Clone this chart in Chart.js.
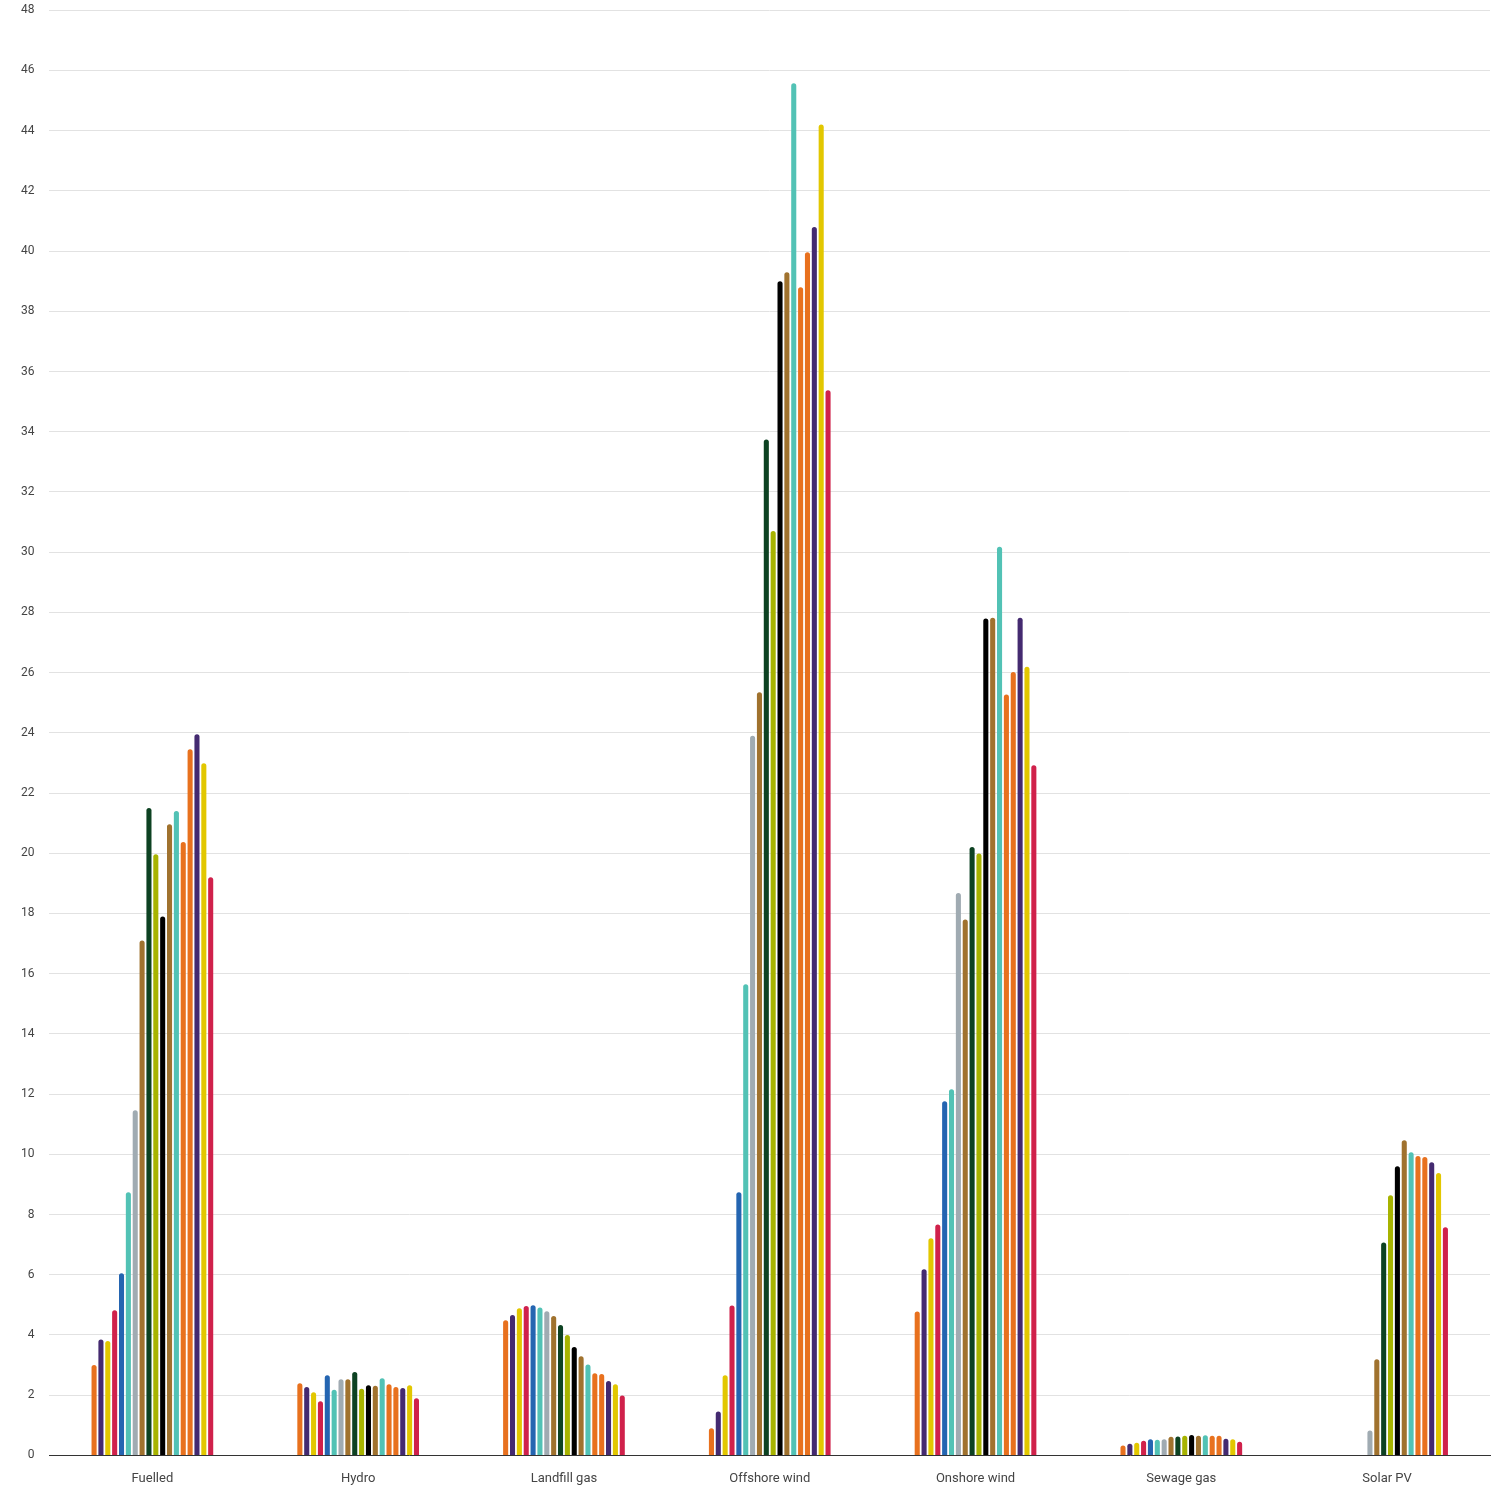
<!DOCTYPE html>
<html>
<head>
<meta charset="utf-8">
<script src="https://cdn.jsdelivr.net/npm/chart.js@4/dist/chart.umd.min.js"></script>
<style>
  html, body { margin: 0; padding: 0; background: #fff; overflow: hidden; }
  #wrap { width: 1500px; height: 1512px; margin-top: -12px; }
</style>
</head>
<body>
<div id="wrap"><canvas id="genChart" width="1500" height="1512"></canvas></div>
<script>
const categories = ['Fuelled', 'Hydro', 'Landfill gas', 'Offshore wind', 'Onshore wind', 'Sewage gas', 'Solar PV'];

const yTicks = [0, 2, 4, 6, 8, 10, 12, 14, 16, 18, 20, 22, 24, 26, 28, 30, 32, 34, 36, 38, 40, 42, 44, 46, 48];

// one entry per bar in a group, left to right
const seriesNames = ['S1', 'S2', 'S3', 'S4', 'S5', 'S6', 'S7', 'S8', 'S9',
  'S10', 'S11', 'S12', 'S13', 'S14', 'S15', 'S16', 'S17', 'S18'];

const seriesColors = ['#E8711E', '#442A70', '#E2C700', '#D0214B', '#2465B1', '#52C2B5',
  '#A0ABB2', '#A0722E', '#0D4222', '#A7B300', '#000000', '#A0722E',
  '#52C2B5', '#E8711E', '#E8711E', '#442A70', '#E2C700', '#D0214B'];

// values per category, in series order
const fuelled = [3.0, 3.85, 3.8, 4.82, 6.05, 8.74, 11.46, 17.1, 21.5, 19.97, 17.9, 20.96, 21.4, 20.37, 23.45, 23.95, 22.99, 19.2];
const hydro = [2.4, 2.27, 2.1, 1.8, 2.66, 2.18, 2.53, 2.53, 2.77, 2.21, 2.33, 2.31, 2.56, 2.36, 2.27, 2.24, 2.33, 1.9];
const landfillGas = [4.49, 4.66, 4.89, 4.96, 4.99, 4.91, 4.79, 4.63, 4.33, 4.0, 3.6, 3.29, 3.02, 2.73, 2.7, 2.47, 2.36, 1.99];
const offshoreWind = [0.9, 1.46, 2.66, 4.98, 8.74, 15.65, 23.9, 25.35, 33.74, 30.7, 39.0, 39.3, 45.57, 38.8, 39.96, 40.8, 44.2, 35.38];
const onshoreWind = [4.78, 6.18, 7.21, 7.67, 11.76, 12.16, 18.68, 17.8, 20.21, 19.99, 27.8, 27.82, 30.18, 25.27, 26.02, 27.82, 26.19, 22.92];
const sewageGas = [0.33, 0.39, 0.42, 0.49, 0.54, 0.52, 0.54, 0.62, 0.63, 0.65, 0.68, 0.65, 0.67, 0.65, 0.65, 0.55, 0.54, 0.45];
const solarPV = [0, 0, 0, 0, 0, 0, 0.83, 3.19, 7.07, 8.64, 9.6, 10.47, 10.07, 9.94, 9.91, 9.74, 9.38, 7.58];

const byCategory = [fuelled, hydro, landfillGas, offshoreWind, onshoreWind, sewageGas, solarPV];

const datasets = seriesNames.map((name, i) => ({
  label: name,
  data: byCategory.map(vals => vals[i]),
  backgroundColor: seriesColors[i],
  borderWidth: 0,
  borderRadius: { topLeft: 3, topRight: 3, bottomLeft: 0, bottomRight: 0 },
  borderSkipped: false,
  categoryPercentage: 0.6,
  barPercentage: 0.74
}));

const ctx = document.getElementById('genChart').getContext('2d');

new Chart(ctx, {
  type: 'bar',
  data: {
    labels: categories,
    datasets: datasets
  },
  options: {
    responsive: false,
    animation: false,
    layout: {
      padding: { left: 6, right: 10, top: 4, bottom: 5 }
    },
    plugins: {
      legend: { display: false },
      tooltip: { enabled: false }
    },
    scales: {
      x: {
        grid: { display: false },
        border: { display: true, color: '#333333', width: 1 },
        ticks: {
          color: '#444444',
          font: { family: 'Roboto', size: 13 },
          padding: 8
        }
      },
      y: {
        min: 0,
        max: 48,
        afterBuildTicks: axis => {
          axis.ticks = yTicks.map(v => ({ value: v }));
        },
        grid: { color: '#e2e2e2', drawTicks: false },
        border: { display: false },
        ticks: {
          color: '#444444',
          font: { family: 'Roboto', size: 12 },
          padding: 15
        }
      }
    }
  }
});
</script>
</body>
</html>
